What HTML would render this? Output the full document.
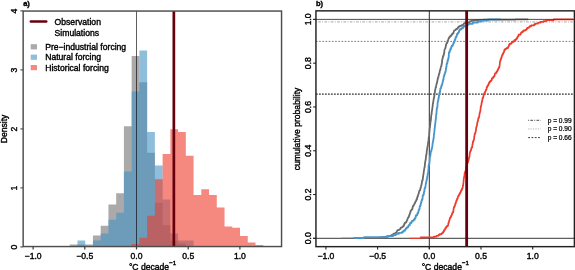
<!DOCTYPE html>
<html><head><meta charset="utf-8"><title>figure</title><style>html,body{margin:0;padding:0;background:#fff}svg{display:block;will-change:transform}</style></head><body>
<svg width="575" height="270" viewBox="0 0 575 270" font-family="Liberation Sans, Arial, Helvetica, sans-serif" font-size="8.6" fill="#000"><style>text{stroke:#000;stroke-width:0.38px;paint-order:stroke fill}</style>
<rect width="575" height="270" fill="#fff"/>
<path fill="rgba(113,113,113,0.6)" d="M69.73,246.55V244.50H77.47V244.50H85.21V244.50H92.95V235.40H100.69V225.80H108.43V204.40H116.17V193.30H123.91V126.20H131.65V56.00H139.39V82.20H147.13V152.70H154.87V202.70H162.61V225.30H170.35V240.40H178.09V243.50H185.83V246.55Z"/>
<path fill="rgba(67,147,195,0.6)" d="M77.47,246.55V240.40H85.21V246.55ZM92.95,246.55V240.40H100.69V233.40H108.43V219.80H116.17V212.70H123.91V171.60H131.65V91.50H139.39V50.40H147.13V131.90H154.87V165.50H162.61V199.50H170.35V233.50H178.09V240.40H185.83V240.40H193.57V246.55Z"/>
<path fill="rgba(239,59,44,0.6)" d="M131.65,246.55V244.00H139.39V237.70H147.13V215.70H154.87V179.20H162.61V154.00H170.35V129.20H178.09V131.90H185.83V155.70H193.57V195.00H201.31V189.30H209.05V195.00H216.79V207.60H224.53V226.60H232.27V227.80H240.01V235.90H247.75V242.40H255.49V245.00H263.23V246.00H270.97V246.55Z"/>
<line x1="136.5" y1="11.05" x2="136.5" y2="249.05" stroke="#000" stroke-opacity="0.7" stroke-width="0.9"/>
<line x1="173.85" y1="11.05" x2="173.85" y2="246.55" stroke="#67000d" stroke-width="2.7"/>
<rect x="23.15" y="11.05" width="258.40000000000003" height="235.5" fill="none" stroke="#4d4d4d" stroke-width="1.45"/>
<line x1="33.10" y1="246.55" x2="33.10" y2="249.45000000000002" stroke="#3a3a3a" stroke-width="1.2"/>
<text x="33.10" y="258.5" text-anchor="middle">−1.0</text>
<line x1="84.80" y1="246.55" x2="84.80" y2="249.45000000000002" stroke="#3a3a3a" stroke-width="1.2"/>
<text x="84.80" y="258.5" text-anchor="middle">−0.5</text>
<line x1="136.50" y1="246.55" x2="136.50" y2="249.45000000000002" stroke="#3a3a3a" stroke-width="1.2"/>
<text x="136.50" y="258.5" text-anchor="middle">0.0</text>
<line x1="188.20" y1="246.55" x2="188.20" y2="249.45000000000002" stroke="#3a3a3a" stroke-width="1.2"/>
<text x="188.20" y="258.5" text-anchor="middle">0.5</text>
<line x1="239.90" y1="246.55" x2="239.90" y2="249.45000000000002" stroke="#3a3a3a" stroke-width="1.2"/>
<text x="239.90" y="258.5" text-anchor="middle">1.0</text>
<line x1="20.349999999999998" y1="246.90" x2="23.15" y2="246.90" stroke="#4d4d4d" stroke-width="1.1"/>
<text transform="translate(17.4,247.20) rotate(-90)" text-anchor="middle">0</text>
<line x1="20.349999999999998" y1="187.90" x2="23.15" y2="187.90" stroke="#4d4d4d" stroke-width="1.1"/>
<text transform="translate(17.4,188.20) rotate(-90)" text-anchor="middle">1</text>
<line x1="20.349999999999998" y1="128.90" x2="23.15" y2="128.90" stroke="#4d4d4d" stroke-width="1.1"/>
<text transform="translate(17.4,129.20) rotate(-90)" text-anchor="middle">2</text>
<line x1="20.349999999999998" y1="69.90" x2="23.15" y2="69.90" stroke="#4d4d4d" stroke-width="1.1"/>
<text transform="translate(17.4,70.20) rotate(-90)" text-anchor="middle">3</text>
<line x1="20.349999999999998" y1="10.90" x2="23.15" y2="10.90" stroke="#4d4d4d" stroke-width="1.1"/>
<text transform="translate(17.4,11.20) rotate(-90)" text-anchor="middle">4</text>
<text transform="translate(7,129) rotate(-90)" text-anchor="middle">Density</text>
<text x="128.9" y="269.8">°C decade<tspan font-size="6.2" dy="-5.0">−1</tspan></text>
<text x="23.2" y="6.2" font-size="7.5" font-weight="bold">a)</text>
<line x1="30.8" y1="21.5" x2="46.3" y2="21.5" stroke="#67000d" stroke-width="2.4" stroke-linecap="round"/>
<text x="54.6" y="24.6">Observation</text>
<text x="54.6" y="36.3">Simulations</text>
<rect x="30.7" y="44.20" width="6.3" height="5.2" fill="#aaaaaa"/>
<text x="45.2" y="49.70">Pre−industrial forcing</text>
<rect x="30.7" y="54.60" width="6.3" height="5.2" fill="#8ebedb"/>
<text x="45.2" y="60.10">Natural forcing</text>
<rect x="30.7" y="65.00" width="6.3" height="5.2" fill="#f58980"/>
<text x="45.2" y="70.50">Historical forcing</text>
<line x1="315.95" y1="21.9" x2="574.4" y2="21.9" stroke="#999" stroke-width="0.9" stroke-dasharray="0.9 1.4 2.6 1.4"/>
<line x1="315.95" y1="41.4" x2="574.4" y2="41.4" stroke="#666" stroke-width="0.9" stroke-dasharray="1.6 1.6"/>
<line x1="315.95" y1="94.1" x2="574.4" y2="94.1" stroke="#333" stroke-width="1.1" stroke-dasharray="1.8 1.2"/>
<line x1="429.3" y1="10.85" x2="429.3" y2="249.15" stroke="#111" stroke-width="0.9"/>
<line x1="313.15" y1="238.30" x2="574.4" y2="238.30" stroke="#222" stroke-width="0.9"/>
<line x1="341.30" y1="238.30" x2="354.70" y2="238.30" stroke="#696969" stroke-width="1.15"/><path d="M354.20,238.30H354.20V238.06H370.67V237.81H378.44V237.57H380.92V237.33H382.66V237.08H384.99V236.84H386.69V236.60H388.36V236.35H389.08V236.11H390.60V235.87H390.77V235.62H391.19V235.38H391.28V235.14H392.25V234.89H392.49V234.65H393.02V234.41H393.28V234.17H393.34V233.92H393.68V233.68H395.05V233.44H395.32V233.19H395.64V232.95H395.88V232.71H395.97V232.46H396.51V232.22H396.83V231.98H396.88V231.73H396.93V231.49H397.00V231.25H397.08V231.00H397.19V230.76H397.35V230.52H397.57V230.27H397.87V230.03H398.77V229.79H399.36V229.54H399.49V229.30H399.80V229.06H400.19V228.81H400.53V228.57H400.53V228.33H400.62V228.08H400.67V227.84H400.88V227.60H401.81V227.36H402.22V227.11H402.48V226.87H402.55V226.63H402.71V226.38H403.24V226.14H403.25V225.90H403.76V225.65H403.82V225.41H403.86V225.17H403.97V224.92H404.07V224.68H404.13V224.44H404.32V224.19H404.33V223.95H404.34V223.71H404.49V223.46H404.90V223.22H404.92V222.98H405.15V222.73H405.32V222.49H405.92V222.25H406.34V222.00H406.36V221.76H406.42V221.52H406.62V221.27H406.74V221.03H406.79V220.79H406.87V220.54H406.90V220.30H407.17V220.06H407.28V219.82H407.42V219.57H407.43V219.33H407.48V219.09H407.53V218.84H407.53V218.60H407.67V218.36H407.99V218.11H408.12V217.87H408.15V217.63H408.21V217.38H408.30V217.14H408.63V216.90H408.67V216.65H408.84V216.41H408.93V216.17H408.94V215.92H409.09V215.68H409.18V215.44H409.20V215.19H409.26V214.95H409.37V214.71H409.63V214.46H409.69V214.22H409.73V213.98H409.82V213.73H409.88V213.49H409.94V213.25H410.05V213.00H410.12V212.76H410.18V212.52H410.29V212.28H410.47V212.03H410.51V211.79H410.53V211.55H410.57V211.30H410.58V211.06H410.64V210.82H410.80V210.57H411.13V210.33H411.33V210.09H411.57V209.84H411.57V209.60H411.87V209.36H412.23V209.11H412.29V208.87H412.36V208.63H412.41V208.38H412.42V208.14H412.53V207.90H412.59V207.65H412.59V207.41H412.61V207.17H412.61V206.92H412.76V206.68H412.87V206.44H412.99V206.19H413.02V205.95H413.37V205.71H413.55V205.47H413.78V205.22H413.90V204.98H414.04V204.74H414.13V204.49H414.27V204.25H414.32V204.01H414.51V203.76H414.70V203.52H414.83V203.28H414.84V203.03H415.08V202.79H415.10V202.55H415.21V202.30H415.23V202.06H415.30V201.82H415.42V201.57H415.46V201.33H415.96V201.09H416.12V200.84H416.15V200.60H416.22V200.36H416.24V200.11H416.33V199.87H416.39V199.63H416.47V199.38H416.84V199.14H416.84V198.90H417.04V198.65H417.04V198.41H417.09V198.17H417.14V197.93H417.21V197.68H417.24V197.44H417.27V197.20H417.34V196.95H417.47V196.71H417.50V196.47H417.76V196.22H417.93V195.98H417.98V195.74H418.00V195.49H418.06V195.25H418.11V195.01H418.18V194.76H418.27V194.52H418.42V194.28H418.53V194.03H418.61V193.79H418.74V193.55H418.76V193.30H418.79V193.06H418.89V192.82H418.92V192.57H418.94V192.33H418.98V192.09H419.04V191.84H419.05V191.60H419.16V191.36H419.25V191.11H419.40V190.87H419.49V190.63H419.63V190.39H419.71V190.14H420.03V189.90H420.22V189.66H420.26V189.41H420.29V189.17H420.31V188.93H420.35V188.68H420.39V188.44H420.44V188.20H420.47V187.95H420.68V187.71H420.79V187.47H420.84V187.22H420.86V186.98H420.93V186.74H421.09V186.49H421.11V186.25H421.14V186.01H421.17V185.76H421.19V185.52H421.30V185.28H421.43V185.03H421.46V184.79H421.51V184.55H421.56V184.30H421.56V184.06H421.60V183.82H421.62V183.58H421.78V183.33H421.78V183.09H421.83V182.85H421.85V182.60H421.95V182.36H421.96V182.12H421.97V181.87H421.97V181.63H422.03V181.39H422.04V181.14H422.08V180.90H422.11V180.66H422.21V180.41H422.44V180.17H422.62V179.93H422.68V179.68H422.69V179.44H422.75V179.20H422.79V178.95H422.79V178.71H422.84V178.47H422.84V178.22H422.87V177.98H422.87V177.74H422.90V177.49H422.92V177.25H422.97V177.01H423.03V176.76H423.04V176.52H423.11V176.28H423.13V176.04H423.14V175.79H423.17V175.55H423.26V175.31H423.32V175.06H423.33V174.82H423.36V174.58H423.44V174.33H423.46V174.09H423.47V173.85H423.53V173.60H423.53V173.36H423.59V173.12H423.66V172.87H423.66V172.63H423.67V172.39H423.70V172.14H423.71V171.90H423.75V171.66H423.77V171.41H423.82V171.17H423.87V170.93H423.89V170.68H423.93V170.44H423.98V170.20H424.08V169.95H424.15V169.71H424.16V169.47H424.21V169.22H424.23V168.98H424.25V168.74H424.27V168.50H424.28V168.25H424.37V168.01H424.45V167.77H424.54V167.52H424.54V167.28H424.55V167.04H424.57V166.79H424.65V166.55H424.77V166.31H424.79V166.06H424.80V165.82H424.85V165.58H424.85V165.33H424.87V165.09H424.88V164.85H424.91V164.60H424.93V164.36H424.94V164.12H424.96V163.87H424.96V163.63H424.96V163.39H424.98V163.14H425.08V162.90H425.08V162.66H425.09V162.41H425.15V162.17H425.18V161.93H425.20V161.69H425.29V161.44H425.32V161.20H425.38V160.96H425.42V160.71H425.51V160.47H425.52V160.23H425.54V159.98H425.56V159.74H425.62V159.50H425.73V159.25H425.75V159.01H425.78V158.77H425.81V158.52H425.85V158.28H425.92V158.04H425.94V157.79H425.95V157.55H425.97V157.31H425.99V157.06H426.00V156.82H426.03V156.58H426.07V156.33H426.09V156.09H426.11V155.85H426.12V155.60H426.13V155.36H426.14V155.12H426.21V154.87H426.33V154.63H426.42V154.39H426.49V154.15H426.51V153.90H426.58V153.66H426.59V153.42H426.61V153.17H426.64V152.93H426.67V152.69H426.68V152.44H426.69V152.20H426.72V151.96H426.73V151.71H426.73V151.47H426.75V151.23H426.77V150.98H426.80V150.74H426.88V150.50H426.90V150.25H426.92V150.01H426.99V149.77H427.04V149.52H427.09V149.28H427.13V149.04H427.14V148.79H427.15V148.55H427.15V148.31H427.20V148.06H427.33V147.82H427.41V147.58H427.47V147.33H427.51V147.09H427.54V146.85H427.57V146.61H427.58V146.36H427.63V146.12H427.63V145.88H427.69V145.63H427.69V145.39H427.74V145.15H427.82V144.90H427.83V144.66H427.89V144.42H427.95V144.17H427.96V143.93H427.96V143.69H427.98V143.44H428.05V143.20H428.11V142.96H428.14V142.71H428.14V142.47H428.15V142.23H428.24V141.98H428.27V141.74H428.31V141.50H428.35V141.25H428.41V141.01H428.42V140.77H428.48V140.52H428.51V140.28H428.56V140.04H428.64V139.80H428.65V139.55H428.65V139.31H428.65V139.07H428.66V138.82H428.66V138.58H428.66V138.34H428.68V138.09H428.69V137.85H428.70V137.61H428.77V137.36H428.80V137.12H428.87V136.88H428.94V136.63H428.97V136.39H428.99V136.15H429.02V135.90H429.11V135.66H429.13V135.42H429.18V135.17H429.21V134.93H429.23V134.69H429.23V134.44H429.24V134.20H429.24V133.96H429.26V133.71H429.27V133.47H429.27V133.23H429.27V132.98H429.27V132.74H429.28V132.50H429.34V132.26H429.39V132.01H429.45V131.77H429.46V131.53H429.51V131.28H429.52V131.04H429.52V130.80H429.55V130.55H429.56V130.31H429.58V130.07H429.59V129.82H429.61V129.58H429.61V129.34H429.63V129.09H429.66V128.85H429.68V128.61H429.72V128.36H429.81V128.12H429.87V127.88H429.89V127.63H429.89V127.39H429.94V127.15H429.98V126.90H429.99V126.66H430.00V126.42H430.01V126.17H430.04V125.93H430.10V125.69H430.10V125.44H430.11V125.20H430.14V124.96H430.22V124.72H430.26V124.47H430.26V124.23H430.31V123.99H430.33V123.74H430.33V123.50H430.34V123.26H430.36V123.01H430.36V122.77H430.36V122.53H430.37V122.28H430.44V122.04H430.50V121.80H430.56V121.55H430.59V121.31H430.66V121.07H430.75V120.82H430.76V120.58H430.78V120.34H430.81V120.09H430.85V119.85H430.85V119.61H430.86V119.36H430.87V119.12H430.88V118.88H430.97V118.63H431.04V118.39H431.07V118.15H431.08V117.91H431.08V117.66H431.09V117.42H431.09V117.18H431.10V116.93H431.11V116.69H431.13V116.45H431.14V116.20H431.15V115.96H431.19V115.72H431.24V115.47H431.31V115.23H431.31V114.99H431.37V114.74H431.46V114.50H431.51V114.26H431.63V114.01H431.65V113.77H431.65V113.53H431.65V113.28H431.67V113.04H431.68V112.80H431.70V112.55H431.70V112.31H431.73V112.07H431.82V111.82H431.85V111.58H431.89V111.34H431.92V111.09H431.95V110.85H431.98V110.61H431.98V110.37H432.03V110.12H432.09V109.88H432.12V109.64H432.18V109.39H432.20V109.15H432.25V108.91H432.29V108.66H432.31V108.42H432.34V108.18H432.34V107.93H432.35V107.69H432.39V107.45H432.39V107.20H432.49V106.96H432.53V106.72H432.62V106.47H432.67V106.23H432.69V105.99H432.69V105.74H432.71V105.50H432.72V105.26H432.73V105.01H432.73V104.77H432.73V104.53H432.74V104.28H432.83V104.04H432.83V103.80H432.94V103.55H432.97V103.31H433.04V103.07H433.06V102.83H433.15V102.58H433.15V102.34H433.18V102.10H433.25V101.85H433.27V101.61H433.29V101.37H433.31V101.12H433.32V100.88H433.43V100.64H433.51V100.39H433.51V100.15H433.53V99.91H433.53V99.66H433.63V99.42H433.66V99.18H433.67V98.93H433.70V98.69H433.80V98.45H433.83V98.20H433.83V97.96H433.89V97.72H433.95V97.47H434.09V97.23H434.13V96.99H434.18V96.74H434.20V96.50H434.28V96.26H434.28V96.02H434.30V95.77H434.30V95.53H434.42V95.29H434.42V95.04H434.50V94.80H434.54V94.56H434.58V94.31H434.61V94.07H434.61V93.83H434.61V93.58H434.63V93.34H434.67V93.10H434.77V92.85H434.78V92.61H434.81V92.37H434.89V92.12H434.93V91.88H434.95V91.64H434.95V91.39H434.98V91.15H435.01V90.91H435.03V90.66H435.05V90.42H435.08V90.18H435.09V89.93H435.19V89.69H435.31V89.45H435.37V89.20H435.45V88.96H435.47V88.72H435.48V88.48H435.51V88.23H435.56V87.99H435.57V87.75H435.79V87.50H435.91V87.26H435.91V87.02H435.98V86.77H435.99V86.53H436.00V86.29H436.10V86.04H436.22V85.80H436.23V85.56H436.24V85.31H436.31V85.07H436.38V84.83H436.49V84.58H436.49V84.34H436.49V84.10H436.55V83.85H436.59V83.61H436.67V83.37H436.77V83.12H436.80V82.88H436.93V82.64H437.05V82.39H437.07V82.15H437.08V81.91H437.14V81.66H437.23V81.42H437.25V81.18H437.33V80.94H437.36V80.69H437.44V80.45H437.45V80.21H437.48V79.96H437.61V79.72H437.70V79.48H437.70V79.23H437.74V78.99H437.74V78.75H437.78V78.50H437.78V78.26H437.91V78.02H438.04V77.77H438.29V77.53H438.34V77.29H438.38V77.04H438.43V76.80H438.45V76.56H438.46V76.31H438.55V76.07H438.56V75.83H438.68V75.58H438.79V75.34H438.81V75.10H438.86V74.85H438.92V74.61H438.94V74.37H438.95V74.12H439.13V73.88H439.16V73.64H439.25V73.40H439.36V73.15H439.44V72.91H439.46V72.67H439.57V72.42H439.60V72.18H439.64V71.94H439.65V71.69H439.69V71.45H439.75V71.21H439.79V70.96H439.83V70.72H439.85V70.48H439.95V70.23H440.22V69.99H440.25V69.75H440.39V69.50H440.46V69.26H440.46V69.02H440.52V68.77H440.54V68.53H440.62V68.29H440.65V68.04H440.66V67.80H440.71V67.56H440.78V67.31H440.88V67.07H441.00V66.83H441.12V66.59H441.14V66.34H441.29V66.10H441.32V65.86H441.33V65.61H441.51V65.37H441.52V65.13H441.53V64.88H441.54V64.64H441.59V64.40H441.64V64.15H441.65V63.91H441.81V63.67H441.81V63.42H441.83V63.18H441.83V62.94H441.92V62.69H441.98V62.45H442.02V62.21H442.08V61.96H442.08V61.72H442.11V61.48H442.12V61.23H442.12V60.99H442.13V60.75H442.14V60.50H442.14V60.26H442.15V60.02H442.19V59.77H442.34V59.53H442.36V59.29H442.37V59.05H442.45V58.80H442.61V58.56H442.64V58.32H442.66V58.07H442.80V57.83H442.82V57.59H442.83V57.34H442.88V57.10H442.90V56.86H442.92V56.61H442.93V56.37H443.05V56.13H443.14V55.88H443.41V55.64H443.47V55.40H443.60V55.15H443.68V54.91H443.71V54.67H443.77V54.42H443.79V54.18H443.86V53.94H443.92V53.69H443.98V53.45H444.11V53.21H444.13V52.96H444.21V52.72H444.22V52.48H444.23V52.24H444.24V51.99H444.30V51.75H444.31V51.51H444.32V51.26H444.38V51.02H444.39V50.78H444.42V50.53H444.47V50.29H444.47V50.05H444.52V49.80H444.59V49.56H444.85V49.32H444.96V49.07H445.06V48.83H445.19V48.59H445.20V48.34H445.38V48.10H445.43V47.86H445.47V47.61H445.47V47.37H445.51V47.13H445.67V46.88H445.68V46.64H445.72V46.40H445.74V46.15H445.79V45.91H445.80V45.67H445.83V45.42H445.94V45.18H445.95V44.94H446.16V44.70H446.17V44.45H446.23V44.21H446.37V43.97H446.38V43.72H446.53V43.48H446.58V43.24H446.86V42.99H446.92V42.75H447.25V42.51H447.31V42.26H447.33V42.02H447.44V41.78H447.46V41.53H447.53V41.29H447.54V41.05H447.71V40.80H447.93V40.56H447.99V40.32H448.11V40.07H448.26V39.83H448.30V39.59H448.36V39.34H448.46V39.10H448.47V38.86H448.55V38.61H448.63V38.37H448.78V38.13H448.93V37.88H449.05V37.64H449.26V37.40H449.37V37.16H449.66V36.91H449.78V36.67H450.16V36.43H450.32V36.18H450.33V35.94H450.80V35.70H451.04V35.45H451.33V35.21H451.47V34.97H451.81V34.72H451.90V34.48H451.96V34.24H452.16V33.99H452.54V33.75H452.58V33.51H452.81V33.26H453.45V33.02H453.46V32.78H453.56V32.53H453.57V32.29H453.68V32.05H453.68V31.80H453.81V31.56H453.88V31.32H453.99V31.07H454.11V30.83H454.15V30.59H454.23V30.35H454.86V30.10H455.42V29.86H455.80V29.62H455.84V29.37H455.95V29.13H456.39V28.89H456.90V28.64H457.48V28.40H457.59V28.16H457.76V27.91H457.78V27.67H457.97V27.43H458.35V27.18H458.40V26.94H458.53V26.70H459.10V26.45H459.85V26.21H459.92V25.97H460.82V25.72H461.65V25.48H461.71V25.24H462.91V24.99H463.29V24.75H463.41V24.51H463.46V24.26H463.70V24.02H463.84V23.78H463.99V23.53H464.43V23.29H464.61V23.05H465.59V22.81H466.41V22.56H468.07V22.32H468.94V22.08H469.61V21.83H469.65V21.59H469.80V21.35H470.66V21.10H471.03V20.86H473.24V20.62H474.60V20.37H477.85V20.13H477.90V19.89H483.28V19.64H515.40V19.40H528.30" fill="none" stroke="#696969" stroke-width="1.8" stroke-linejoin="round"/>
<line x1="354.00" y1="238.30" x2="364.60" y2="238.30" stroke="#4797cc" stroke-width="1.15"/><path d="M364.10,238.30H364.10V237.21H386.74V236.11H393.12V235.02H395.82V233.92H398.79V232.83H402.20V231.73H403.60V230.64H405.03V229.54H405.73V228.45H406.74V227.36H408.14V226.26H408.69V225.17H409.73V224.07H410.15V222.98H411.34V221.88H411.87V220.79H413.54V219.69H414.67V218.60H415.22V217.50H415.78V216.41H415.85V215.32H417.16V214.22H417.36V213.13H418.21V212.03H418.41V210.94H418.70V209.84H419.31V208.75H419.65V207.65H419.67V206.56H420.11V205.47H420.64V204.37H420.81V203.28H421.12V202.18H421.37V201.09H421.83V199.99H422.17V198.90H422.59V197.80H422.63V196.71H422.68V195.61H423.29V194.52H423.83V193.43H423.89V192.33H424.13V191.24H424.45V190.14H424.51V189.05H424.64V187.95H425.32V186.86H425.52V185.76H425.66V184.67H425.77V183.58H426.03V182.48H426.26V181.39H426.50V180.29H426.75V179.20H426.98V178.10H427.15V177.01H427.38V175.91H427.59V174.82H427.67V173.72H428.04V172.63H428.20V171.54H428.31V170.44H428.39V169.35H428.52V168.25H428.52V167.16H428.58V166.06H428.74V164.97H429.05V163.87H429.43V162.78H429.52V161.69H429.63V160.59H429.71V159.50H429.77V158.40H429.84V157.31H430.02V156.21H430.28V155.12H430.57V154.02H430.58V152.93H430.61V151.83H431.11V150.74H431.52V149.65H431.63V148.55H432.01V147.46H432.27V146.36H432.37V145.27H432.53V144.17H432.62V143.08H432.81V141.98H433.01V140.89H433.28V139.80H433.39V138.70H433.65V137.61H433.79V136.51H433.87V135.42H433.89V134.32H434.19V133.23H434.25V132.13H434.39V131.04H434.42V129.94H434.57V128.85H434.71V127.76H434.80V126.66H434.95V125.57H435.08V124.47H435.15V123.38H435.37V122.28H435.45V121.19H435.60V120.09H435.71V119.00H435.86V117.91H436.03V116.81H436.03V115.72H436.12V114.62H436.38V113.53H436.51V112.43H436.55V111.34H436.65V110.24H436.69V109.15H436.91V108.05H437.20V106.96H437.45V105.87H437.50V104.77H437.52V103.68H437.63V102.58H437.78V101.49H438.03V100.39H438.33V99.30H438.43V98.20H438.77V97.11H438.86V96.02H439.09V94.92H439.21V93.83H439.46V92.73H439.80V91.64H440.09V90.54H440.25V89.45H440.30V88.35H441.01V87.26H441.23V86.16H441.54V85.07H442.11V83.98H442.39V82.88H442.58V81.79H442.89V80.69H443.10V79.60H443.49V78.50H443.68V77.41H443.70V76.31H444.15V75.22H444.48V74.12H444.92V73.03H445.14V71.94H445.66V70.84H445.84V69.75H445.87V68.65H446.18V67.56H446.31V66.46H446.58V65.37H446.58V64.27H446.93V63.18H447.35V62.09H447.60V60.99H447.61V59.90H448.22V58.80H448.39V57.71H448.70V56.61H448.75V55.52H448.88V54.42H448.88V53.33H448.93V52.24H449.71V51.14H449.76V50.05H450.43V48.95H450.99V47.86H451.30V46.76H451.81V45.67H452.66V44.57H453.31V43.48H453.58V42.38H454.24V41.29H454.59V40.20H455.06V39.10H455.50V38.01H455.74V36.91H456.57V35.82H456.81V34.72H457.12V33.63H458.00V32.53H458.85V31.44H459.13V30.35H459.93V29.25H461.52V28.16H462.92V27.06H463.89V25.97H467.04V24.87H468.38V23.78H472.77V22.68H477.66V21.59H481.20V20.49H488.00V19.40H500.60" fill="none" stroke="#4797cc" stroke-width="1.8" stroke-linejoin="round"/>
<line x1="409.40" y1="238.30" x2="421.20" y2="238.30" stroke="#ef3b2c" stroke-width="1.15"/><path d="M420.70,238.30H420.70V237.46H433.94V236.62H436.61V235.77H438.50V234.93H439.62V234.09H441.58V233.25H442.64V232.41H443.30V231.56H443.82V230.72H444.28V229.88H444.67V229.04H445.35V228.20H445.94V227.36H446.33V226.51H447.29V225.67H448.06V224.83H448.26V223.99H448.30V223.15H448.68V222.30H448.97V221.46H449.16V220.62H449.42V219.78H449.63V218.94H449.85V218.09H450.31V217.25H450.88V216.41H451.17V215.57H451.68V214.73H451.90V213.88H452.23V213.04H452.60V212.20H453.23V211.36H453.36V210.52H453.50V209.67H453.50V208.83H453.68V207.99H453.92V207.15H454.32V206.31H454.86V205.47H455.02V204.62H455.18V203.78H455.62V202.94H455.91V202.10H456.17V201.26H456.33V200.41H456.89V199.57H456.99V198.73H457.55V197.89H457.84V197.05H458.07V196.20H458.62V195.36H459.03V194.52H459.53V193.68H459.93V192.84H460.52V191.99H460.77V191.15H461.15V190.31H461.61V189.47H462.05V188.63H462.37V187.78H462.70V186.94H462.85V186.10H462.86V185.26H463.23V184.42H463.25V183.58H463.34V182.73H463.54V181.89H463.56V181.05H463.57V180.21H463.75V179.37H463.76V178.52H463.96V177.68H464.05V176.84H464.24V176.00H464.42V175.16H464.49V174.31H464.61V173.47H464.71V172.63H465.09V171.79H465.40V170.95H465.80V170.10H465.84V169.26H466.00V168.42H466.08V167.58H466.23V166.74H466.28V165.89H466.40V165.05H466.81V164.21H467.16V163.37H467.53V162.53H467.93V161.69H468.15V160.84H468.34V160.00H468.69V159.16H468.86V158.32H468.96V157.48H469.29V156.63H469.51V155.79H469.62V154.95H469.64V154.11H469.75V153.27H469.91V152.42H470.16V151.58H470.43V150.74H470.82V149.90H471.13V149.06H471.32V148.21H471.59V147.37H472.25V146.53H472.25V145.69H472.36V144.85H472.59V144.00H472.63V143.16H472.90V142.32H472.92V141.48H473.37V140.64H473.65V139.80H474.04V138.95H474.14V138.11H474.15V137.27H474.23V136.43H474.47V135.59H474.59V134.74H474.62V133.90H475.11V133.06H475.45V132.22H475.57V131.38H475.81V130.53H475.82V129.69H476.05V128.85H476.09V128.01H476.26V127.17H476.53V126.32H476.82V125.48H476.96V124.64H477.07V123.80H477.23V122.96H477.37V122.11H477.57V121.27H477.92V120.43H478.12V119.59H478.13V118.75H478.43V117.91H478.79V117.06H479.18V116.22H479.33V115.38H479.34V114.54H479.50V113.70H479.63V112.85H480.01V112.01H480.09V111.17H480.33V110.33H480.44V109.49H480.52V108.64H480.64V107.80H480.64V106.96H480.92V106.12H481.20V105.28H481.36V104.43H481.47V103.59H481.56V102.75H481.77V101.91H482.07V101.07H482.14V100.22H482.43V99.38H482.48V98.54H482.76V97.70H483.18V96.86H483.32V96.02H483.62V95.17H483.88V94.33H484.10V93.49H484.52V92.65H484.98V91.81H485.50V90.96H485.66V90.12H486.24V89.28H486.57V88.44H486.60V87.60H487.01V86.75H487.32V85.91H487.86V85.07H488.51V84.23H488.64V83.39H489.10V82.54H489.60V81.70H490.37V80.86H491.31V80.02H491.71V79.18H491.86V78.33H492.81V77.49H493.35V76.65H494.17V75.81H494.67V74.97H494.77V74.12H495.08V73.28H496.10V72.44H496.62V71.60H497.20V70.76H497.56V69.92H498.04V69.07H498.40V68.23H498.80V67.39H499.30V66.55H499.47V65.71H499.66V64.86H499.75V64.02H499.78V63.18H499.84V62.34H500.03V61.50H500.15V60.65H500.53V59.81H500.75V58.97H501.11V58.13H501.35V57.29H501.73V56.44H501.94V55.60H502.24V54.76H502.70V53.92H503.13V53.08H503.58V52.24H503.89V51.39H504.24V50.55H504.38V49.71H505.30V48.87H506.43V48.03H508.01V47.18H508.36V46.34H508.93V45.50H509.01V44.66H509.56V43.82H511.12V42.97H511.81V42.13H513.01V41.29H514.27V40.45H515.14V39.61H516.25V38.76H516.91V37.92H517.33V37.08H517.78V36.24H518.41V35.40H518.64V34.55H520.54V33.71H520.90V32.87H521.49V32.03H522.78V31.19H523.75V30.35H525.86V29.50H526.66V28.66H527.21V27.82H528.86V26.98H529.80V26.14H531.09V25.29H534.17V24.45H535.19V23.61H537.95V22.77H540.46V21.93H543.62V21.08H546.24V20.24H553.60V19.40H573.20" fill="none" stroke="#ef3b2c" stroke-width="1.7" stroke-linejoin="round"/>
<line x1="313.15" y1="19.40" x2="574.4" y2="19.40" stroke="#3a3a3a" stroke-width="0.9"/>
<line x1="466.65" y1="10.85" x2="466.65" y2="246.65" stroke="#67000d" stroke-width="2.8"/>
<rect x="315.95" y="10.85" width="258.45" height="235.8" fill="none" stroke="#222" stroke-width="1.45"/>
<line x1="325.90" y1="246.65" x2="325.90" y2="249.45000000000002" stroke="#222" stroke-width="1.1"/>
<text x="325.90" y="258.5" text-anchor="middle">−1.0</text>
<line x1="377.60" y1="246.65" x2="377.60" y2="249.45000000000002" stroke="#222" stroke-width="1.1"/>
<text x="377.60" y="258.5" text-anchor="middle">−0.5</text>
<line x1="429.30" y1="246.65" x2="429.30" y2="249.45000000000002" stroke="#222" stroke-width="1.1"/>
<text x="429.30" y="258.5" text-anchor="middle">0.0</text>
<line x1="481.00" y1="246.65" x2="481.00" y2="249.45000000000002" stroke="#222" stroke-width="1.1"/>
<text x="481.00" y="258.5" text-anchor="middle">0.5</text>
<line x1="532.70" y1="246.65" x2="532.70" y2="249.45000000000002" stroke="#222" stroke-width="1.1"/>
<text x="532.70" y="258.5" text-anchor="middle">1.0</text>
<line x1="313.15" y1="238.30" x2="315.95" y2="238.30" stroke="#222" stroke-width="1.1"/>
<text transform="translate(310.7,238.30) rotate(-90)" text-anchor="middle">0.0</text>
<line x1="313.15" y1="194.52" x2="315.95" y2="194.52" stroke="#222" stroke-width="1.1"/>
<text transform="translate(310.7,194.52) rotate(-90)" text-anchor="middle">0.2</text>
<line x1="313.15" y1="150.74" x2="315.95" y2="150.74" stroke="#222" stroke-width="1.1"/>
<text transform="translate(310.7,150.74) rotate(-90)" text-anchor="middle">0.4</text>
<line x1="313.15" y1="106.96" x2="315.95" y2="106.96" stroke="#222" stroke-width="1.1"/>
<text transform="translate(310.7,106.96) rotate(-90)" text-anchor="middle">0.6</text>
<line x1="313.15" y1="63.18" x2="315.95" y2="63.18" stroke="#222" stroke-width="1.1"/>
<text transform="translate(310.7,63.18) rotate(-90)" text-anchor="middle">0.8</text>
<line x1="313.15" y1="19.40" x2="315.95" y2="19.40" stroke="#222" stroke-width="1.1"/>
<text transform="translate(310.7,19.40) rotate(-90)" text-anchor="middle">1.0</text>
<text transform="translate(300.2,129) rotate(-90)" text-anchor="middle">cumulative probability</text>
<text x="421.70" y="269.8">°C decade<tspan font-size="6.2" dy="-5.0">−1</tspan></text>
<text x="316" y="6.2" font-size="7.5" font-weight="bold">b)</text>
<line x1="528.2" y1="120.30" x2="540.8" y2="120.30" stroke="#333" stroke-width="0.9" stroke-dasharray="0.9 1.3 2.6 1.3"/>
<text x="547.7" y="122.70" font-size="6.6" style="stroke-width:0.22px">p = 0.99</text>
<line x1="528.2" y1="128.95" x2="540.8" y2="128.95" stroke="#aaa" stroke-width="0.9" stroke-dasharray="1.2 1.2"/>
<text x="547.7" y="131.35" font-size="6.6" style="stroke-width:0.22px">p = 0.90</text>
<line x1="528.2" y1="137.60" x2="540.8" y2="137.60" stroke="#222" stroke-width="0.9" stroke-dasharray="1.8 1.5"/>
<text x="547.7" y="140.00" font-size="6.6" style="stroke-width:0.22px">p = 0.66</text>
</svg>
</body></html>
